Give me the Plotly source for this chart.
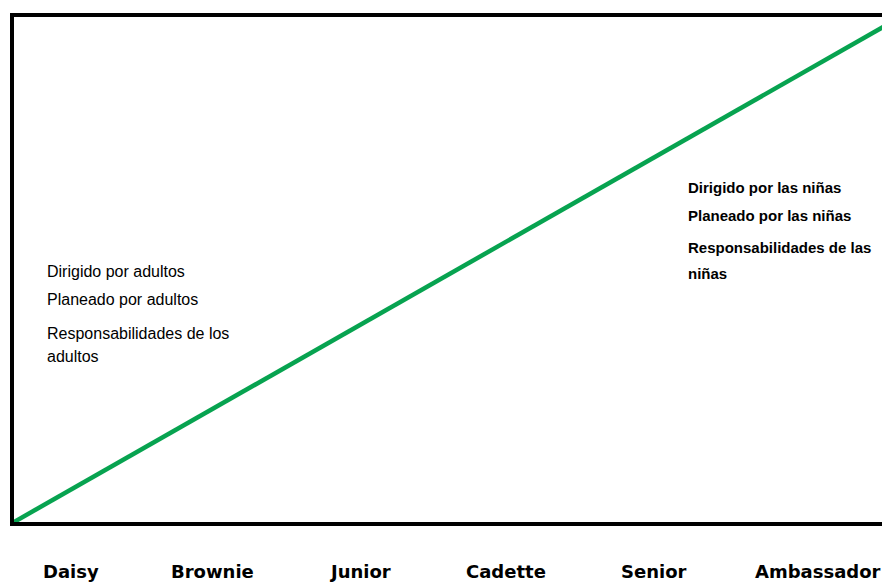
import plotly.graph_objects as go

# Data
line_x = [0, 100]
line_y = [0, 99.7]

categories = ["Daisy", "Brownie", "Junior", "Cadette", "Senior", "Ambassador"]
category_x = [6.5, 22.5, 39.1, 55.7, 72.4, 90.9]

left_notes = ["Dirigido por adultos", "Planeado por adultos", "Responsabilidades de los", "adultos"]
left_notes_y = [49.7, 44.0, 37.4, 32.7]
right_notes = ["Dirigido por las niñas", "Planeado por las niñas", "Responsabilidades de las", "niñas"]
right_notes_y = [66.3, 60.6, 54.3, 49.3]

fig = go.Figure()
fig.add_trace(go.Scatter(x=line_x, y=line_y, mode="lines",
                         line=dict(color="#07A350", width=4.5), hoverinfo="skip"))

annotations = []
for c, x in zip(categories, category_x):
    annotations.append(dict(x=x, y=-0.099, xref="x", yref="paper", text=c, showarrow=False,
                            xanchor="center", yanchor="middle",
                            font=dict(family="DejaVu Sans", size=18, color="black", weight="bold")))
for t, y in zip(left_notes, left_notes_y):
    annotations.append(dict(x=3.5, y=y, xref="x", yref="y", text=t, showarrow=False,
                            xanchor="left", yanchor="middle",
                            font=dict(family="Liberation Sans", size=16, color="black")))
for t, y in zip(right_notes, right_notes_y):
    annotations.append(dict(x=76.0, y=y, xref="x", yref="y", text=t, showarrow=False,
                            xanchor="left", yanchor="middle",
                            font=dict(family="Liberation Sans", size=15, color="black", weight="bold")))

fig.update_layout(
    width=890, height=575,
    margin=dict(l=6, r=0, t=9, b=61),
    paper_bgcolor="white", plot_bgcolor="white",
    showlegend=False,
    annotations=annotations,
    xaxis=dict(range=[0, 100], showgrid=False, zeroline=False, showticklabels=False,
               ticks="", showline=True, linecolor="black", linewidth=4, mirror=True),
    yaxis=dict(range=[0, 100], showgrid=False, zeroline=False, showticklabels=False,
               ticks="", showline=True, linecolor="black", linewidth=4, mirror=False),
)

fig.write_html("out.html")
